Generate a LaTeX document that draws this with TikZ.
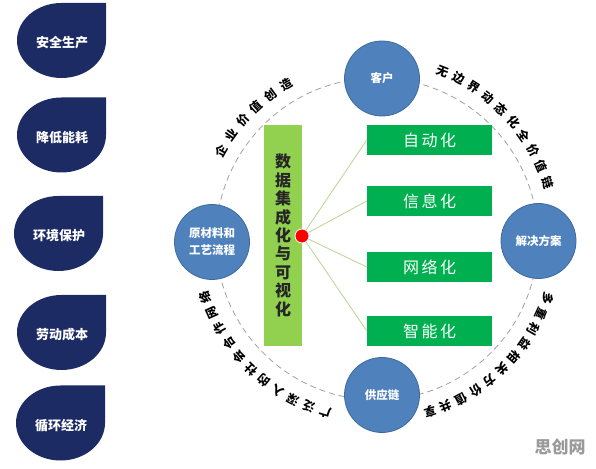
\documentclass[tikz,border=0pt]{standalone}
\usepackage{fontspec}
\setmainfont{Noto Sans CJK SC}
\usetikzlibrary{calc}
\definecolor{navy}{HTML}{1C2B64}
\definecolor{bubfill}{HTML}{4F81BD}
\definecolor{bubline}{HTML}{3C6A9E}
\definecolor{lgreen}{HTML}{92D050}
\definecolor{dgreen}{HTML}{00B050}
\definecolor{linkc}{HTML}{C3D69B}
\definecolor{ringc}{HTML}{A0A0A0}
\definecolor{wmc}{HTML}{9A9A9A}
\begin{document}
\begin{tikzpicture}[x=1pt,y=1pt,
  ring/.style={draw=ringc, dashed, line width=0.8pt, dash pattern=on 6pt off 4pt},
  droptext/.style={text=white, font=\fontsize{13}{15}\selectfont\bfseries},
  bub/.style={circle, fill=bubfill, draw=bubline, line width=0.8pt, minimum size=75pt, inner sep=0pt, text=white, align=center, font=\fontsize{11.5}{17}\selectfont\bfseries},
  lgrect/.style={fill=lgreen, minimum width=38pt, minimum height=221pt, inner sep=0pt, align=center, text=black!85, font=\fontsize{16}{18.4}\selectfont\bfseries},
  gbox/.style={fill=dgreen, minimum width=125pt, minimum height=30pt, inner sep=0pt, text=white, font=\fontsize{16}{18}\selectfont},
  link/.style={draw=linkc, line width=0.9pt},
  dot/.style={circle, fill=red, draw=white, line width=0.8pt, minimum size=14pt, inner sep=0pt},
  arctext/.style={inner sep=0pt, text=black, font=\fontsize{12}{12}\selectfont\bfseries},
  wm/.style={text=wmc, font=\fontsize{17}{17}\selectfont\bfseries}]
\useasboundingbox (0,0) rectangle (596,468);
\fill[white] (0,0) rectangle (596,468);
\coordinate (C) at (377,229);
\draw[ring] (C) circle (161);

% teardrops
\foreach \x/\y/\t [count=\i] in {61.5/427.5/安全生产, 61.5/333/降低能耗, 58.5/234.5/环境保护, 61.5/135.5/劳动成本, 60.5/45/循环经济} {
  \fill[navy] (\x,\y+37.5) -- (\x+44.5,\y+37.5) -- (\x+44.5,\y) arc[start angle=0, end angle=-270, x radius=44.5, y radius=37.5] -- cycle;
  \node[droptext] (d\i) at (\x+0.5,\y-2.5) {\t};
}

% circles
\node[bub] (top) at (382,389.5) {客户};
\node[bub] (right) at (538.5,227) {解决方案};
\node[bub] (bottom) at (382,73) {供应链};
\node[bub] (left) at (212,226) {原材料和\\工艺流程};

% central block
\node[lgrect] (vrect) at (283,232.5) {数\\据\\集\\成\\化\\与\\可\\视\\化};
\node[gbox] (b1) at (429.5,328) {自\hspace{2.5pt}动\hspace{2.5pt}化};
\node[gbox] (b2) at (429.5,267) {信\hspace{2.5pt}息\hspace{2.5pt}化};
\node[gbox] (b3) at (429.5,201) {网\hspace{2.5pt}络\hspace{2.5pt}化};
\node[gbox] (b4) at (429.5,137) {智\hspace{2.5pt}能\hspace{2.5pt}化};
\coordinate (dc) at (302,232);
\foreach \b in {b1,b2,b3,b4} { \draw[link] (dc) -- (\b.west); }
\node[dot] (dot) at (dc) {};

% arc texts
\foreach \c [count=\i from 0] in {企,业,价,值,创,造} {
  \pgfmathsetmacro\a{150.4-\i*5.98}
  \node[arctext, rotate=\a-90] (ta\i) at ($(C)+(\a:179)$) {\c};
}
\foreach \c [count=\i from 0] in {无,边,界,动,态,化,全,价,值,链} {
  \pgfmathsetmacro\a{68.7-\i*5.6}
  \node[arctext, rotate=\a-90] (tb\i) at ($(C)+(\a:180)$) {\c};
}
\foreach \c [count=\i from 0] in {多,重,利,益,相,关,方,价,值,共,享} {
  \pgfmathsetmacro\a{-19.2-\i*5.38}
  \node[arctext, rotate=\a-90] (tc\i) at ($(C)+(\a:181)$) {\c};
}
\foreach \c [count=\i from 0] in {广,泛,深,入,的,社,会,合,作,网,络} {
  \pgfmathsetmacro\a{253.3-\i*5.46}
  \node[arctext, rotate=\a-90] (td\i) at ($(C)+(\a:181)$) {\c};
}

\node[wm] (wm) at (560,21) {思创网};
\end{tikzpicture}
\end{document}
